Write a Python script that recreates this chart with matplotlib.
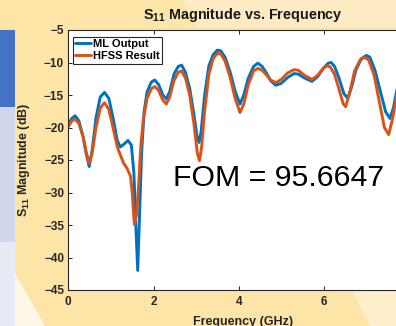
import matplotlib
matplotlib.use("Agg")
import matplotlib.pyplot as plt
from matplotlib.patches import Polygon, Rectangle

plt.rcParams['font.family'] = ['Liberation Sans', 'DejaVu Sans']
plt.rcParams['mathtext.fontset'] = 'custom'
plt.rcParams['mathtext.rm'] = 'Liberation Sans:bold'
plt.rcParams['mathtext.it'] = 'Liberation Sans:bold'
plt.rcParams['mathtext.bf'] = 'Liberation Sans:bold'

# ---- data ----
freq_ml = [0.00, 0.08, 0.16, 0.25, 0.35, 0.42, 0.49, 0.56, 0.65, 0.75, 0.85, 0.95,
           1.05, 1.15, 1.22, 1.30, 1.40, 1.48, 1.54, 1.59, 1.63, 1.67, 1.72, 1.78,
           1.85, 1.95, 2.03, 2.12, 2.22, 2.30, 2.38, 2.48, 2.58, 2.66, 2.75, 2.85,
           2.95, 3.02, 3.07, 3.12, 3.20, 3.30, 3.40, 3.50, 3.58, 3.68, 3.80, 3.92,
           4.03, 4.12, 4.22, 4.35, 4.45, 4.55, 4.65, 4.75, 4.87, 5.00, 5.15, 5.30,
           5.40, 5.55, 5.72, 5.85, 6.00, 6.10, 6.17, 6.25, 6.35, 6.47, 6.56, 6.65,
           6.75, 6.88, 7.00, 7.08, 7.20, 7.32, 7.45, 7.55, 7.63, 7.72, 7.80]
s11_ml = [-19.5, -18.6, -18.2, -19.0, -21.5, -24.0, -26.0, -23.5, -18.5, -15.3, -14.6, -15.5,
          -18.5, -22.0, -23.0, -22.6, -22.0, -22.7, -27.0, -36.0, -42.0, -34.0, -24.0, -17.5,
          -14.5, -13.0, -12.7, -13.4, -15.0, -15.6, -14.5, -11.8, -10.6, -10.4, -11.5, -14.0,
          -18.0, -21.3, -22.3, -20.5, -15.0, -10.5, -8.8, -8.1, -8.2, -9.2, -11.5, -14.5,
          -16.4, -15.0, -12.5, -10.6, -10.1, -10.6, -11.6, -12.8, -13.5, -13.2, -12.3, -11.7,
          -11.8, -12.4, -12.9, -12.2, -10.8, -10.1, -10.0, -10.6, -12.3, -14.8, -15.5, -13.8,
          -11.2, -9.4, -8.9, -9.2, -11.2, -14.3, -17.6, -18.6, -17.0, -14.0, -11.5]

freq_hfss = [0.00, 0.08, 0.16, 0.25, 0.35, 0.42, 0.49, 0.56, 0.65, 0.75, 0.85, 0.95,
             1.05, 1.15, 1.22, 1.30, 1.38, 1.46, 1.50, 1.55, 1.60, 1.65, 1.70, 1.76,
             1.85, 1.95, 2.03, 2.12, 2.22, 2.30, 2.38, 2.48, 2.58, 2.66, 2.75, 2.85,
             2.95, 3.03, 3.08, 3.13, 3.20, 3.30, 3.40, 3.50, 3.58, 3.68, 3.80, 3.92,
             4.03, 4.12, 4.22, 4.35, 4.45, 4.55, 4.65, 4.75, 4.87, 5.00, 5.15, 5.30,
             5.40, 5.55, 5.72, 5.85, 5.98, 6.08, 6.15, 6.25, 6.35, 6.45, 6.51, 6.60,
             6.72, 6.85, 6.95, 7.05, 7.18, 7.30, 7.42, 7.52, 7.60, 7.70, 7.80]
s11_hfss = [-19.9, -19.0, -18.7, -19.4, -21.5, -23.8, -25.5, -24.0, -20.0, -17.0, -16.2, -17.2,
            -20.0, -23.0, -24.2, -25.5, -26.3, -27.5, -30.0, -34.9, -33.5, -29.0, -23.0, -18.8,
            -15.5, -14.0, -13.7, -14.3, -15.8, -16.4, -15.3, -12.8, -11.5, -11.3, -12.4, -15.0,
            -19.5, -24.0, -25.1, -23.0, -17.5, -11.8, -9.4, -8.6, -8.7, -9.8, -12.3, -15.6,
            -17.7, -16.4, -13.5, -11.3, -10.9, -11.2, -11.9, -12.7, -13.1, -12.6, -11.6, -11.1,
            -11.2, -12.0, -12.6, -12.0, -10.9, -10.5, -10.7, -11.8, -14.0, -16.3, -16.8, -14.8,
            -11.3, -9.6, -9.2, -9.6, -12.0, -16.0, -20.0, -21.1, -19.0, -15.5, -12.5]

series_labels = ["ML Output", "HFSS Result"]
x_ticks = [0, 2, 4, 6]
y_ticks = [-45, -40, -35, -30, -25, -20, -15, -10, -5]
fom_value = 95.6647

W, H = 396, 326
fig = plt.figure(figsize=(W / 100, H / 100), dpi=100)
fig.patch.set_facecolor('#FDE5A7')

# background slide shapes (pixel coordinates)
bg = fig.add_axes([0, 0, 1, 1], zorder=-10)
bg.set_xlim(0, W)
bg.set_ylim(H, 0)
bg.axis('off')
bg.add_patch(Rectangle((0, 0), W, H, color='#FDE5A7', lw=0))
bg.add_patch(Polygon([(182, 0), (196, 28), (W, 28), (W, 0)], closed=True, color='#FEEBC4', lw=0))
bg.add_patch(Polygon([(15, 273), (15, H), (45, H)], closed=True, color='#FEF6E6', lw=0))
bg.add_patch(Polygon([(351.7, 290.5), (370, H), (W, H), (W, 290.5)], closed=True, color='#FEEECB', lw=0))
bg.add_patch(Rectangle((0, 30), 15, 77, color='#4672C6', lw=0))
bg.add_patch(Rectangle((0, 107), 15, 134.5, color='#D0D6EC', lw=0))
bg.add_patch(Rectangle((0, 241.5), 15, H - 241.5, color='#E8EBF6', lw=0))

# main axes (extends past the right edge as in the cropped reference)
x0, ppg = 68.3, 42.6
xmax = 8.2
ax = fig.add_axes([x0 / W, (H - 290) / H, xmax * ppg / W, 260 / H])
ax.set_facecolor('white')

ax.plot(freq_ml, s11_ml, color='#0072BD', lw=2.1, label=series_labels[0],
        solid_joinstyle='round', solid_capstyle='round')
ax.plot(freq_hfss, s11_hfss, color='#D95319', lw=2.1, label=series_labels[1],
        solid_joinstyle='round', solid_capstyle='round')

ax.set_xlim(0, xmax)
ax.set_ylim(-45, -5)
ax.set_xticks(x_ticks)
ax.set_yticks(y_ticks)
ax.tick_params(direction='in', length=3, width=0.7, color='#262626',
               top=True, right=True, labelsize=8.5, pad=3)
for lab in ax.get_xticklabels() + ax.get_yticklabels():
    lab.set_fontweight('bold')
    lab.set_color('#262626')
ax.tick_params(axis='x', pad=4)
for sp in ax.spines.values():
    sp.set_color('#262626')
    sp.set_linewidth(0.8)

ax.set_title(r'S$_{11}$ Magnitude vs. Frequency', fontsize=10.4, fontweight='bold',
             color='#1a1a1a', pad=8)
ax.set_ylabel(r'S$_{11}$ Magnitude (dB)', fontsize=9, fontweight='bold', color='#262626')
ax.yaxis.set_label_coords(-0.104, 0.5)
ax.set_xlabel('Frequency (GHz)', fontsize=9, fontweight='bold', color='#262626', va='top')
ax.xaxis.set_label_coords(0.5, -0.1)

leg = ax.legend(loc='upper left', bbox_to_anchor=(0.0126, 0.974), borderaxespad=0,
                prop={'weight': 'bold', 'size': 8.0}, handlelength=1.45,
                handletextpad=0.12, labelspacing=0.18, borderpad=0.22,
                fancybox=False, framealpha=1, edgecolor='#262626')
leg.get_frame().set_linewidth(0.8)

ax.text(0.2997, 0.40, f'FOM = {fom_value}', transform=ax.transAxes,
        fontsize=21.8, color='black', va='baseline', ha='left')

fig.savefig('out.png', dpi=100, facecolor=fig.get_facecolor())
